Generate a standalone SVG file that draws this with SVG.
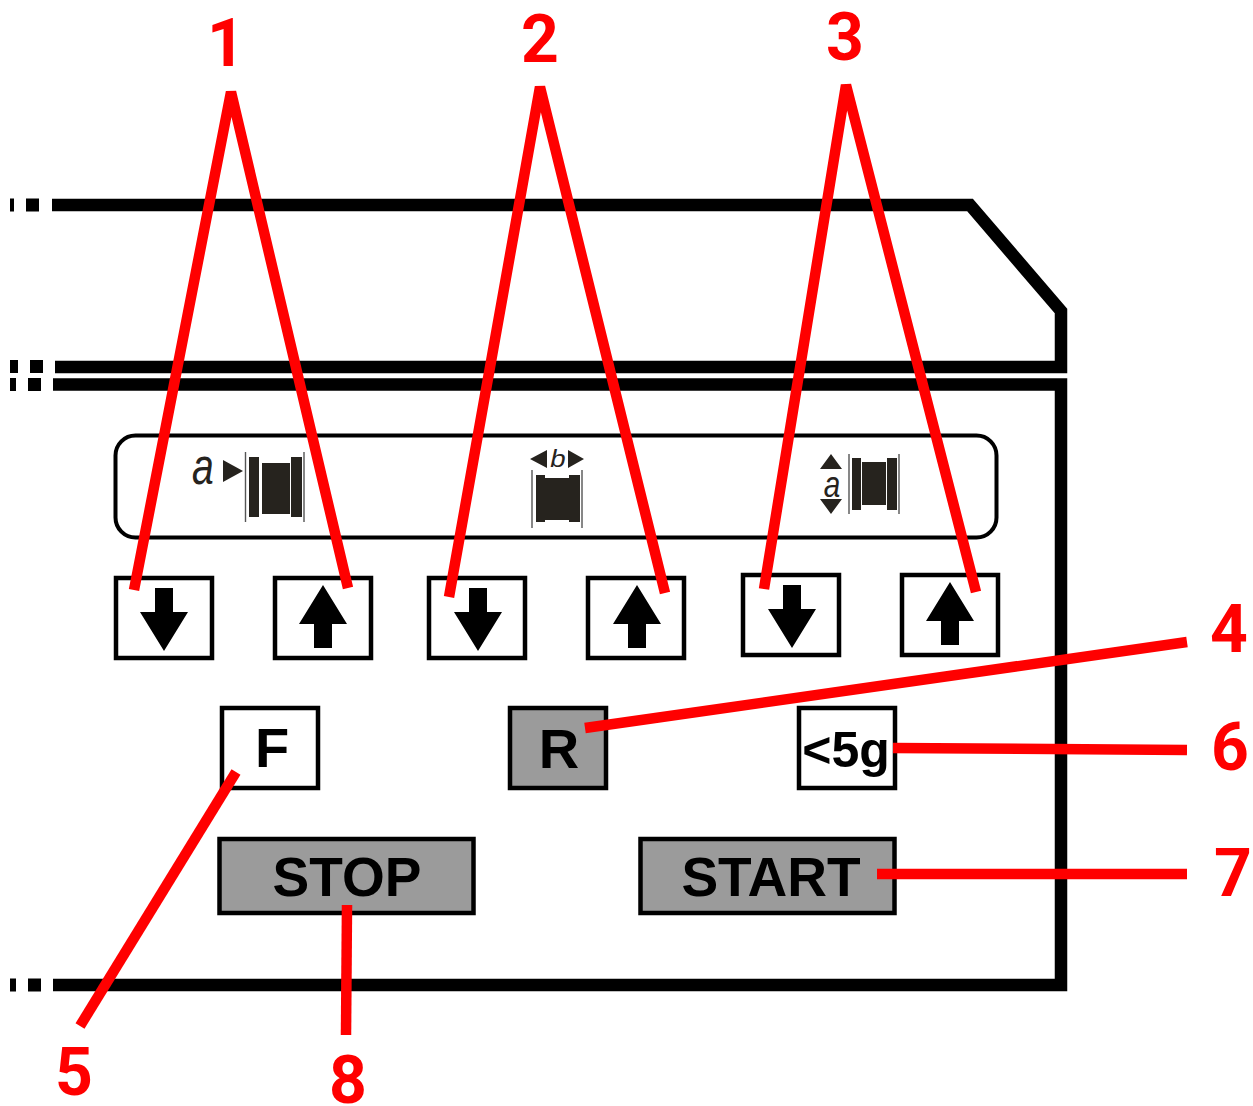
<svg xmlns="http://www.w3.org/2000/svg" width="1253" height="1106" viewBox="0 0 1253 1106">
<style>
.body{fill:none;stroke:#000;stroke-width:12.5;stroke-miterlimit:10}
.btn{fill:#fff;stroke:#000;stroke-width:4.5}
.gray{fill:#9b9b9b}
.t{font-family:"Liberation Sans",Arial,sans-serif;font-weight:700;fill:#000;text-anchor:middle}
.n{font-family:Roboto,"Liberation Sans",Arial,sans-serif;font-weight:700;fill:#f00;text-anchor:middle;font-size:66px}
.ld{fill:none;stroke:#f00;stroke-width:10.5}
.sp{fill:#26231e}
.thin{stroke:#555;stroke-width:1.4;fill:none}
.sym{font-family:"Liberation Sans",Arial,sans-serif;font-style:italic;fill:#26231e;text-anchor:middle}
</style>
<defs>
<path id="dn" d="M-9,-31H9V-7H24L0,32L-24,-7H-9Z"/>
<path id="up" d="M-9,31H9V7H24L0,-32L-24,7H-9Z"/>
</defs>
<g id="body">
<path class="body" d="M52,205H970L1061,311V367H55"/>
<path class="body" d="M53,384.500H1061V985H53"/>
<rect x="10" y="198.500" width="4" height="13"/><rect x="26" y="198.500" width="13" height="13"/>
<rect x="10" y="360" width="8" height="13"/><rect x="30" y="360" width="13" height="13"/>
<rect x="10" y="378" width="6" height="13"/><rect x="28" y="378" width="13" height="13"/>
<rect x="10" y="978.500" width="6" height="13"/><rect x="28" y="978.500" width="13" height="13"/>
<rect x="41" y="978.500" width="12" height="13" fill="#fff"/>
</g>
<g id="symbol-panel">
<rect x="115.500" y="435.500" width="881" height="102" rx="20" fill="none" stroke="#000" stroke-width="4"/>
<g id="sym-a">
<text class="sym" font-size="34" transform="translate(203,484) scale(1.15,1.5)">a</text>
<path class="sp" d="M223,460L243,471L223,482Z"/>
<path class="sp" d="M249,457H259V517H249ZM262,463H290V514H262ZM291,457H302V517H291Z"/>
<path class="thin" d="M245.500,452V522M304,452V522"/>
</g>
<g id="sym-b">
<text class="sym" font-size="24" transform="translate(558,467) scale(1.15,1)">b</text>
<path class="sp" d="M530,459L547,450V468ZM584,459L568,450V468Z"/>
<path class="sp" d="M536,475H545V478H569V475H580V522H569V520H545V522H536Z"/>
<path class="thin" d="M532,470V528M582,470V528"/>
</g>
<g id="sym-a2">
<text class="sym" font-size="27" transform="translate(832,497) scale(1.1,1.4)">a</text>
<path class="sp" d="M831,454L842,469H820ZM831,514L842,499H820Z"/>
<path class="sp" d="M852,458H861V510H852ZM862,462H886V505H862ZM887,458H897V510H887Z"/>
<path class="thin" d="M849,454V514M899,454V514"/>
</g>
</g>
<g id="btn-1a"><rect class="btn" x="116" y="578" width="96" height="80"/><use href="#dn" x="164" y="619"/></g>
<g id="btn-1b"><rect class="btn" x="275" y="578" width="96" height="80"/><use href="#up" x="323" y="617"/></g>
<g id="btn-2a"><rect class="btn" x="429" y="578" width="96" height="80"/><use href="#dn" x="478" y="619"/></g>
<g id="btn-2b"><rect class="btn" x="588" y="578" width="96" height="80"/><use href="#up" x="637" y="617"/></g>
<g id="btn-3a"><rect class="btn" x="743" y="575" width="96" height="80"/><use href="#dn" x="792" y="616"/></g>
<g id="btn-3b"><rect class="btn" x="902" y="575" width="96" height="80"/><use href="#up" x="950" y="614"/></g>
<g id="btn-f"><rect class="btn" x="222" y="708" width="96" height="80"/><text class="t" x="272" y="767" font-size="56">F</text></g>
<g id="btn-r"><rect class="btn gray" x="510" y="708" width="96" height="80"/><text class="t" x="559" y="768" font-size="56">R</text></g>
<g id="btn-5g"><rect class="btn" x="799" y="708" width="96" height="80"/><text class="t" x="846" y="767" font-size="50">&lt;5g</text></g>
<g id="btn-stop"><rect class="btn gray" x="219.500" y="839" width="254" height="74"/><text class="t" x="347" y="896" font-size="55">STOP</text></g>
<g id="btn-start"><rect class="btn gray" x="640.500" y="839" width="254" height="74"/><text class="t" x="771" y="896" font-size="55">START</text></g>
<g id="connectors">
<path class="ld" d="M134,590L231,92L348,588"/>
<path class="ld" d="M449,597L540,87L665,593"/>
<path class="ld" d="M764,589L846,85L976,592"/>
<path class="ld" d="M1187,642L585,728"/>
<path class="ld" d="M1187,750L893,748"/>
<path class="ld" d="M1187,874L877,874"/>
<path class="ld" d="M236,772L80,1026"/>
<path class="ld" d="M347,905L346,1035"/>
</g>
<g id="labels">
<text class="n" x="226" y="66">1</text>
<text class="n" x="540" y="62">2</text>
<text class="n" x="845" y="60">3</text>
<text class="n" x="1229" y="652">4</text>
<text class="n" x="1230" y="770">6</text>
<text class="n" x="1233" y="896">7</text>
<text class="n" x="74" y="1095">5</text>
<text class="n" x="348" y="1103">8</text>
</g>
</svg>
